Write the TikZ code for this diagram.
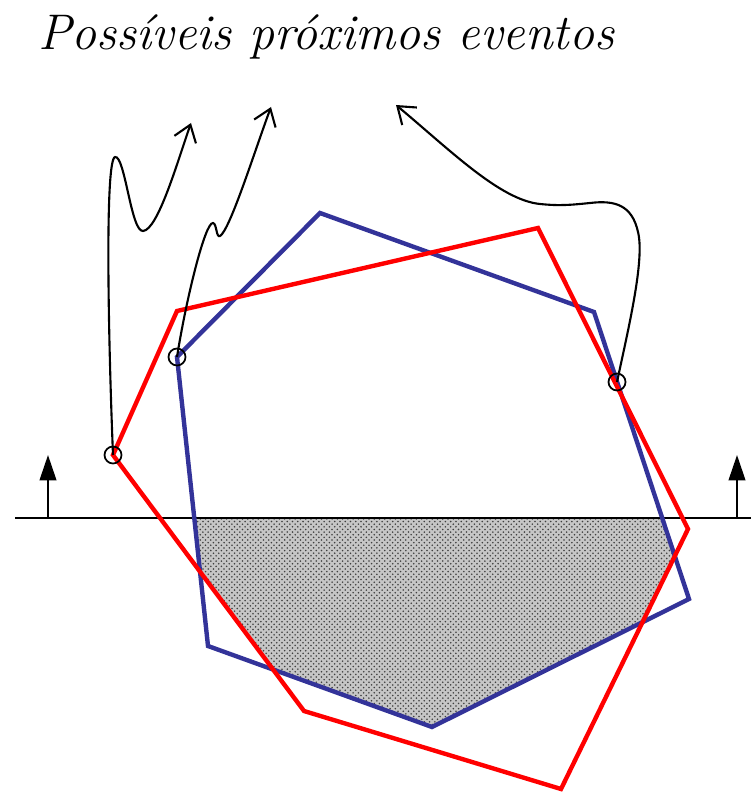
\documentclass[tikz,border=0pt]{standalone}
\usepackage{tikz}
\usetikzlibrary{arrows.meta,patterns}
\definecolor{polyred}{RGB}{255,0,0}
\definecolor{polyblue}{RGB}{51,51,153}

\begin{document}
\begin{tikzpicture}[x=0.02cm,y=-0.02cm,
  poly/.style={line width=2.5pt,line join=miter},
  evt/.style={circle,draw,line width=1pt,minimum size=0.34cm,inner sep=0pt},
  trail/.style={line width=1.2pt,-{Straight Barb[length=9pt,width=13pt]}},
  tick/.style={line width=1.2pt,-{Triangle[length=14.5pt,width=9.5pt]}}
]
  \useasboundingbox (0,0) rectangle (751,793);

  % polygon corners
  \foreach \n/\x/\y in {1/113/455,2/177/311,3/538/228,4/688/529,5/561/789,6/304/711}
    \coordinate (r\n) at (\x,\y);
  \foreach \n/\x/\y in {1/177/357,2/320/213,3/594/312,4/689/599,5/432/727,6/208/646}
    \coordinate (b\n) at (\x,\y);

  \begin{scope}
    \clip (r1) -- (r2) -- (r3) -- (r4) -- (r5) -- (r6) -- cycle;
    \clip (b1) -- (b2) -- (b3) -- (b4) -- (b5) -- (b6) -- cycle;
    \fill[gray!45] (0,518) rectangle (751,793);
    \fill[pattern=crosshatch dots,pattern color=gray!50!black] (0,518) rectangle (751,793);
  \end{scope}

  \coordinate (axl) at (15,518);
  \coordinate (axr) at (751,518);
  \draw[line width=1.2pt] (axl) -- (axr);

  \draw[poly,polyblue] (b1) -- (b2) -- (b3) -- (b4) -- (b5) -- (b6) -- cycle;
  \draw[poly,polyred] (r1) -- (r2) -- (r3) -- (r4) -- (r5) -- (r6) -- cycle;

  \coordinate (ul) at (48,518);
  \coordinate (ult) at (48,455);
  \coordinate (ur) at (737,518);
  \coordinate (urt) at (737,455);
  \draw[tick] (ul) -- (ult);
  \draw[tick] (ur) -- (urt);

  \node[evt] (e1) at (r1) {};
  \node[evt] (e2) at (b1) {};
  \node[evt] (e3) at (617,382) {};

  \coordinate (t1) at (191,123);
  \coordinate (t2) at (271,107);
  \coordinate (t3) at (396,105);

  \draw[trail] (e1.center) .. controls (108,330) and (105,160) .. (115,157)
    .. controls (125,155) and (131,232) .. (143,231)
    .. controls (158,230) and (178,160) .. (t1);
  \draw[trail] (e2.center) .. controls (186,300) and (205,222) .. (213,223)
    .. controls (217,224) and (216,238) .. (220,236)
    .. controls (230,230) and (255,150) .. (t2);
  \draw[trail] (e3.center) .. controls (628,330) and (645,260) .. (638,232)
    .. controls (632,205) and (615,200) .. (590,203)
    .. controls (570,205) and (560,206) .. (540,204)
    .. controls (500,200) and (450,150) .. (t3);

  \node[anchor=base west,inner sep=0pt,font=\fontsize{28.5}{34}\selectfont\itshape] (title)
    at (38,50) {Possíveis próximos eventos};
\end{tikzpicture}
\end{document}
